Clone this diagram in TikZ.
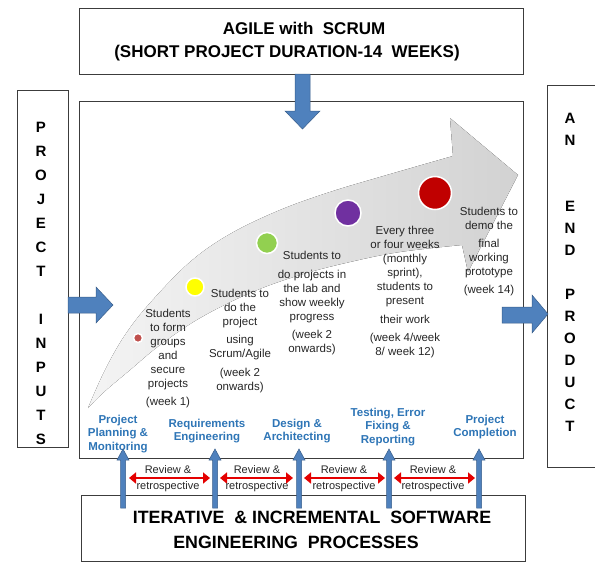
\documentclass[tikz,border=0pt]{standalone}
\usepackage{fontspec}
\setmainfont{Liberation Sans}
\usetikzlibrary{arrows.meta}

\definecolor{arrowblue}{RGB}{79,129,189}
\definecolor{arrowedge}{RGB}{56,93,138}
\definecolor{labelblue}{RGB}{46,117,182}
\definecolor{revred}{RGB}{228,0,0}
\definecolor{boxline}{RGB}{60,60,60}
\definecolor{dotbrown}{RGB}{192,80,77}
\definecolor{dotyellow}{RGB}{255,255,0}
\definecolor{dotgreen}{RGB}{146,208,80}
\definecolor{dotpurple}{RGB}{112,48,160}
\definecolor{dotred}{RGB}{192,0,0}
\definecolor{bandlight}{RGB}{244,244,244}
\definecolor{banddark}{RGB}{210,210,210}

\begin{document}
\begin{tikzpicture}[x=1pt,y=-1pt,
  frame/.style={draw=boxline, line width=0.8pt},
  blockarrow/.style={fill=arrowblue, draw=arrowedge, line width=0.5pt, line join=miter},
  milestone/.style={draw=white, line width=1.5pt},
  stepnote/.style={align=center, anchor=north, inner sep=0pt, text=black!85,
    font=\fontsize{11.5}{14}\selectfont},
  phase/.style={align=center, anchor=north, inner sep=0pt, text=labelblue,
    font=\bfseries\fontsize{11.5}{13.5}\selectfont},
  reviewnote/.style={align=center, anchor=north, inner sep=0pt, text=black!85,
    font=\fontsize{11}{16}\selectfont},
  revarrow/.style={draw=revred, line width=2.6pt,
    {Triangle[length=7pt,width=11pt]}-{Triangle[length=7pt,width=11pt]}},
  headline/.style={anchor=north, inner sep=0pt, font=\bfseries\fontsize{17}{20}\selectfont},
  bigline/.style={anchor=north, inner sep=0pt, font=\bfseries\fontsize{17.8}{21}\selectfont},
  sideword/.style={align=center, anchor=north, inner sep=0pt,
    font=\bfseries\fontsize{15}{24}\selectfont},
  endword/.style={align=center, anchor=north, inner sep=0pt,
    font=\bfseries\fontsize{15}{22}\selectfont}
]
\useasboundingbox (0,0) rectangle (595,562);

% ---- frames ----
\draw[frame] (79,8) rectangle (523,74);
\draw[frame] (17,90) rectangle (68,447);
\draw[frame] (79,101) rectangle (523,458);
\draw[frame] (547,85) rectangle (600,467);
\draw[frame] (81,495) rectangle (525,561);

% ---- header text ----
\node[headline] (agile) at (304,22) {AGILE with\ \ SCRUM};
\node[headline] (duration) at (287,45) {(SHORT PROJECT DURATION-14\ \ WEEKS)};

% ---- side columns ----
\node[sideword] (inputs) at (41,121.5)
  {P\\R\\O\\J\\E\\C\\T\\[24pt]I\\N\\P\\U\\T\\S};
\node[endword] (product) at (570,112.5)
  {A\\N\\[44pt]E\\N\\D\\[22pt]P\\R\\O\\D\\U\\C\\T};

% ---- footer text ----
\node[bigline] (iter) at (312,510.5) {ITERATIVE\ \ \& INCREMENTAL\ \ SOFTWARE};
\node[bigline] (eng) at (296,535.5) {ENGINEERING\ \ PROCESSES};

% ---- rising grey band ----
\fill[left color=bandlight, right color=banddark]
  (88,408) -- plot[smooth, tension=0.6] coordinates
    {(88,408) (105,370) (125,335) (150,303) (190,262) (230,234) (280,210)
     (330,192) (380,177) (453,156)}
  -- (450,118) -- (518,175) -- (468,272) -- (462,245)
  -- plot[smooth, tension=0.6] coordinates
    {(462,245) (400,252) (350,262) (300,275) (250,293) (200,318)
     (160,345) (130,370) (104,392) (88,408)}
  -- cycle;

% ---- milestones ----
\filldraw[milestone, fill=dotbrown] (138,338) circle[radius=4.5pt];
\filldraw[milestone, fill=dotyellow] (195,287) circle[radius=9pt];
\filldraw[milestone, fill=dotgreen] (267,243) circle[radius=10.5pt];
\filldraw[milestone, fill=dotpurple] (348,213) circle[radius=13pt];
\filldraw[milestone, fill=dotred] (435,193) circle[radius=16.5pt];

% ---- milestone notes ----
\node[stepnote] (s1) at (168,308.5)
  {Students\\to form\\groups\\and\\secure\\projects\\[4pt](week 1)};
\node[stepnote] (s2) at (240,288.5)
  {Students to\\do the\\project\\[4pt]using\\Scrum/Agile\\[5pt](week 2\\onwards)};
\node[stepnote] (s3) at (312,250.5)
  {Students to\\[5pt]do projects in\\the lab and\\show weekly\\progress\\[4pt](week 2\\onwards)};
\node[stepnote] (s4) at (405,225.5)
  {Every three\\or four weeks\\(monthly\\sprint),\\students to\\present\\[5pt]their work\\[4pt](week 4/week\\8/ week 12)};
\node[stepnote] (s5) at (489,206.5)
  {Students to\\demo the\\[4pt]final\\working\\prototype\\[4pt](week 14)};

% ---- block arrows ----
\filldraw[blockarrow] (295,74) -- (310,74) -- (310,111) -- (320,111) -- (302.5,129)
  -- (285,111) -- (295,111) -- cycle;
\filldraw[blockarrow] (68,297) -- (96,297) -- (96,287) -- (113,305) -- (96,323)
  -- (96,313) -- (68,313) -- cycle;
\filldraw[blockarrow] (502,307) -- (532,307) -- (532,295) -- (548,314) -- (532,333)
  -- (532,323) -- (502,323) -- cycle;

% ---- process phases ----
\node[phase] (p1) at (118,414.5) {Project\\Planning \&\\Monitoring};
\node[phase] (p2) at (207,418.5) {Requirements\\Engineering};
\node[phase] (p3) at (297,418.5) {Design \&\\Architecting};
\node[phase] (p4) at (388,407.5) {Testing, Error\\Fixing \&\\Reporting};
\node[phase] (p5) at (485,414.5) {Project\\Completion};

% ---- review loops between phases ----
\draw[revarrow] (129,478) -- (210,478);
\draw[revarrow] (220,478) -- (293,478);
\draw[revarrow] (304,478) -- (385,478);
\draw[revarrow] (394,478) -- (475,478);

% ---- upward phase arrows ----
\foreach \x in {123,215,299,389,479} {
  \filldraw[blockarrow] (\x-2.5,508) -- (\x-2.5,460) -- (\x-6,460) -- (\x,449)
    -- (\x+6,460) -- (\x+2.5,460) -- (\x+2.5,508) -- cycle;
}

\node[reviewnote] (r1) at (168,465.5) {Review \&\\retrospective};
\node[reviewnote] (r2) at (257,465.5) {Review \&\\retrospective};
\node[reviewnote] (r3) at (344,465.5) {Review \&\\retrospective};
\node[reviewnote] (r4) at (433,465.5) {Review \&\\retrospective};
\end{tikzpicture}
\end{document}
